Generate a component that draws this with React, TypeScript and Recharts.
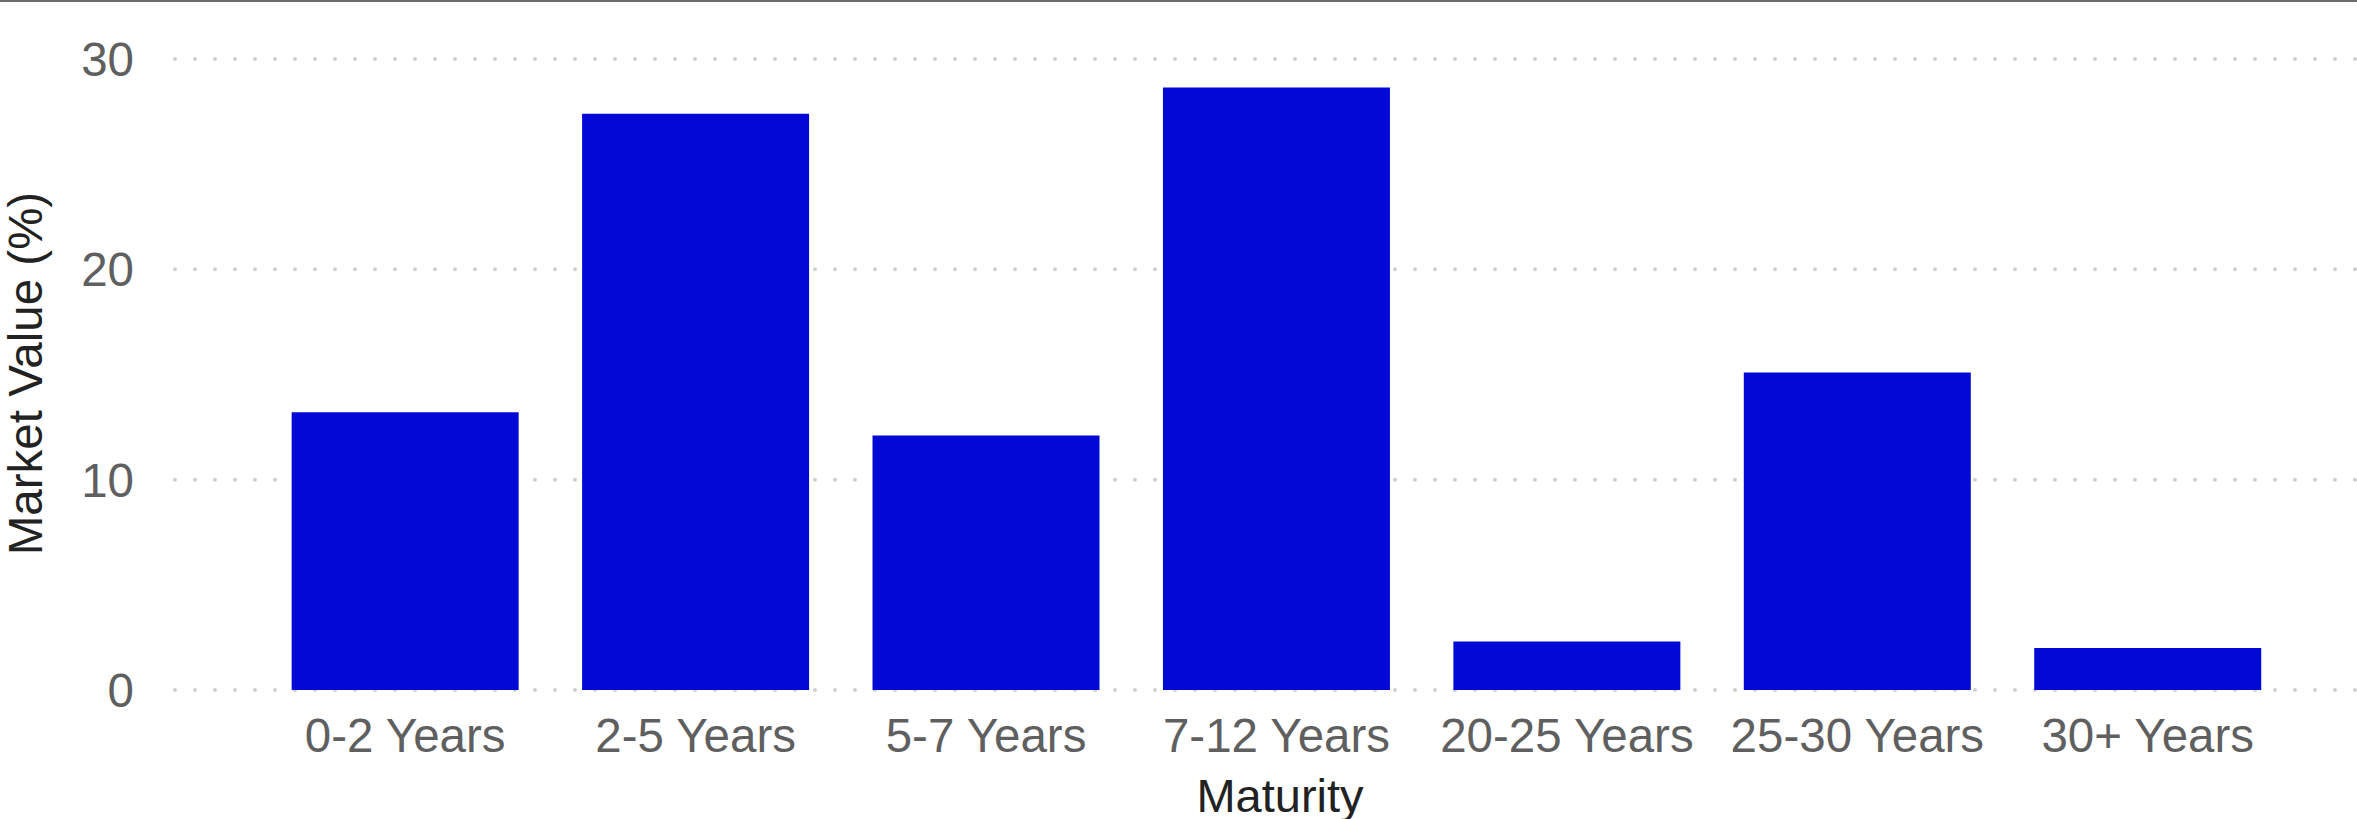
import { Bar, BarChart, CartesianGrid, XAxis, YAxis } from "recharts";

const maturities = [
  "0-2 Years",
  "2-5 Years",
  "5-7 Years",
  "7-12 Years",
  "20-25 Years",
  "25-30 Years",
  "30+ Years"
];
const marketValues = [13.2, 27.4, 12.1, 28.65, 2.3, 15.1, 2.0];
const yTicks = [0, 10, 20, 30];

const data = maturities.map((maturity, i) => ({ maturity, value: marketValues[i] }));

const font = "'Liberation Sans', Arial, sans-serif";

function YLabel({ viewBox }: any) {
  const x = viewBox.x + 42;
  const y = viewBox.y + viewBox.height / 2 - 1;
  return (
    <text
      x={x}
      y={y}
      transform={`rotate(-90 ${x} ${y})`}
      textAnchor="middle"
      fill="#222"
      fontSize={47.5}
      fontFamily={font}
    >
      Market Value (%)
    </text>
  );
}

function XLabel({ viewBox }: any) {
  return (
    <text
      x={viewBox.x + viewBox.width / 2 + 14}
      y={viewBox.y + viewBox.height - 7}
      textAnchor="middle"
      fill="#222"
      fontSize={47}
      fontFamily={font}
    >
      Maturity
    </text>
  );
}

export default function App() {
  return (
    <div
      style={{
        position: "absolute",
        left: 0,
        top: 0,
        width: 2357,
        height: 819,
        background: "#fff",
        overflow: "hidden"
      }}
    >
      <div
        style={{
          position: "absolute",
          left: 0,
          top: 0,
          width: 2357,
          height: 2,
          background: "#6b6b6b",
          zIndex: 2
        }}
      />
      <BarChart
        width={2357}
        height={819}
        data={data}
        margin={{ top: 59, right: 0, bottom: 0, left: 0 }}
        barCategoryGap="10.9%"
      >
        <CartesianGrid
          vertical={false}
          stroke="#cfcfcf"
          strokeWidth={4}
          strokeDasharray="0 20"
          strokeLinecap="round"
        />
        <XAxis
          dataKey="maturity"
          height={129}
          padding={{ left: 85, right: 64 }}
          axisLine={false}
          tickLine={false}
          tickSize={0}
          tickMargin={28}
          interval={0}
          tick={{ fill: "#5f5f5f", fontSize: 47.5, fontFamily: font }}
          label={<XLabel />}
        />
        <YAxis
          width={175}
          domain={[0, 30]}
          ticks={yTicks}
          axisLine={false}
          tickLine={false}
          tickSize={0}
          tickMargin={41}
          tick={{ fill: "#5f5f5f", fontSize: 47.5, fontFamily: font }}
          label={<YLabel />}
        />
        <Bar dataKey="value" fill="#0309d4" isAnimationActive={false} />
      </BarChart>
    </div>
  );
}
